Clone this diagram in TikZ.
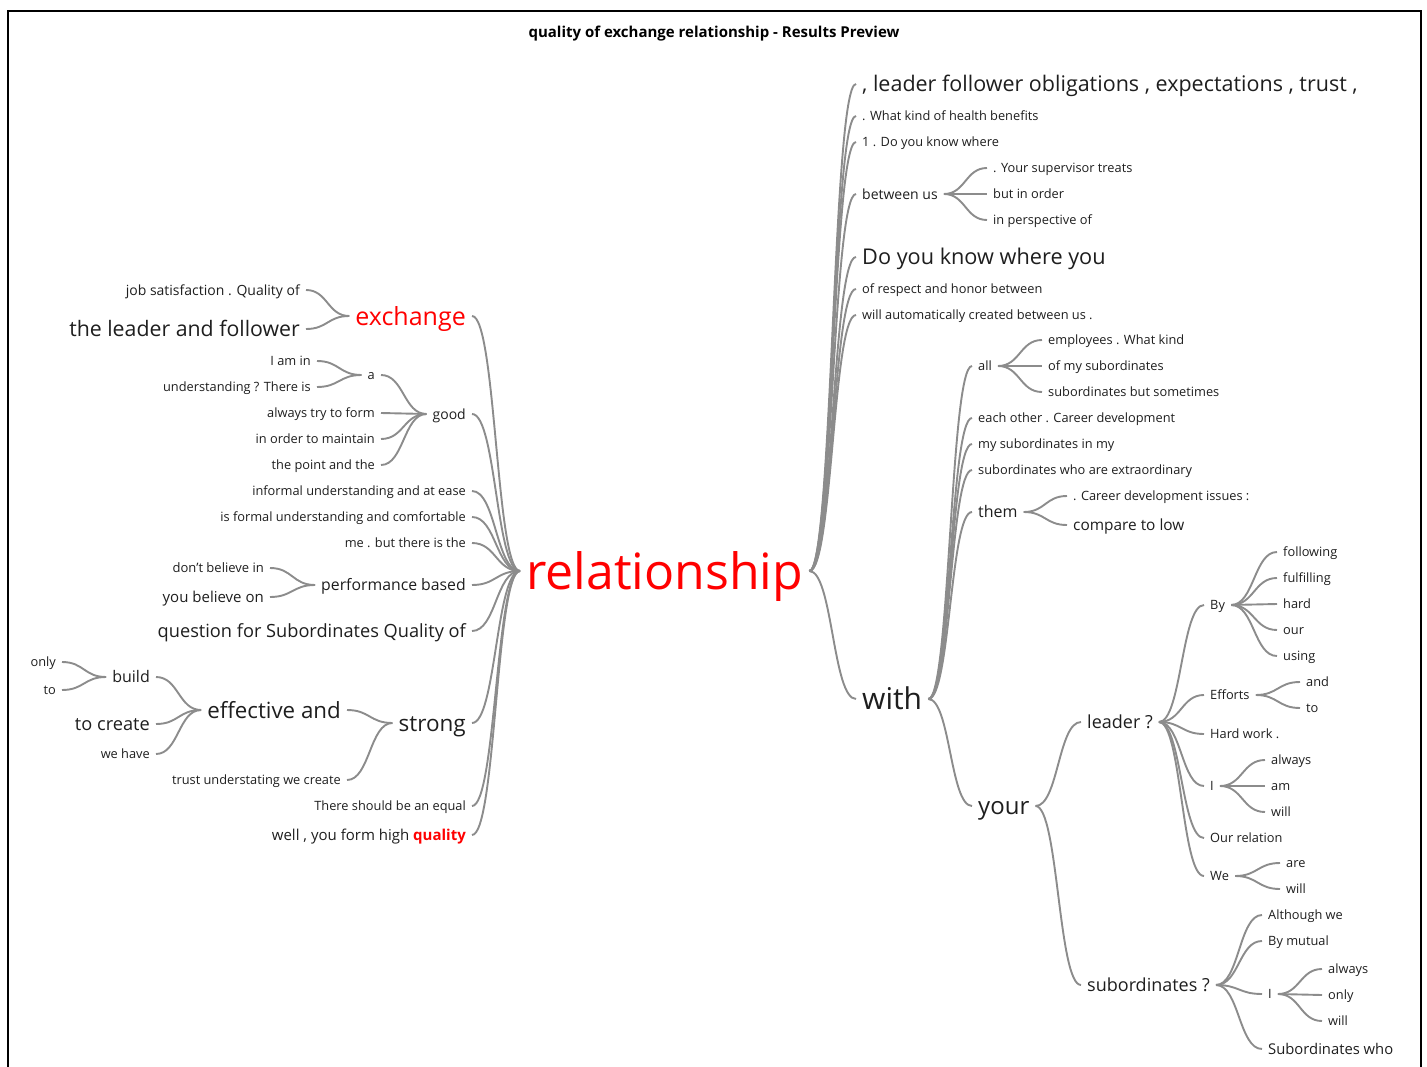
\documentclass[tikz,border=0pt]{standalone}
\usepackage{fontspec}
\setmainfont{Open Sans}
\usetikzlibrary{calc}
\definecolor{linkgray}{RGB}{140,140,140}
\definecolor{wordgray}{RGB}{30,30,30}
\newcommand{\fs}[1]{\fontsize{#1}{#1}\selectfont}

\begin{document}
\begin{tikzpicture}[x=1pt, y=-1pt,
    lw/.style={anchor=east, inner xsep=6pt, inner ysep=0pt, text depth=0pt, text=wordgray},
    rw/.style={lw, anchor=west},
    fz/.style={font=\fs{#1}, text height=#1*0.73pt},
    sm/.style={fz=12.8},
    twig/.style={draw=linkgray, line width=1.9pt,
      to path={let \p1=(\tikztostart), \p2=(\tikztotarget) in
        .. controls ({(\x1+\x2)/2},\y1) and ({(\x1+\x2)/2},\y2) .. (\tikztotarget)}}]
%      \draw [help lines, opacity=0.5] (0,0) grid [step=50] (1427,1067);
      \useasboundingbox (0,0) rectangle (1427,1067);
      \draw [line width=1.2pt] (8,1067) -- (8,11) -- (1421,11) -- (1421,1067);
      \node [fz=15, font=\fs{15}\bfseries, inner ysep=0pt] (title) at (714,34) {quality of exchange relationship - Results Preview};

      % root
      \node [rw, fz=50, text=red] (rel) at (520,571) {relationship};

      % left side
      \node [lw, fz=25, text=red] (exchange) at (472,316) {exchange};
      \node [lw, fz=14] (jobsat) at (306,290) {job satisfaction . Quality of};
      \node [lw, fz=21.3] (leadfol) at (306,329) {the leader and follower};
      \node [lw, fz=14] (good) at (472,414) {good};
      \node [lw, sm] (a) at (381,375) {a};
      \node [lw, sm] (iamin) at (317,361) {I am in};
      \node [lw, sm] (underst) at (317,387) {understanding ? There is};
      \node [lw, sm] (tryform) at (381,413) {always try to form};
      \node [lw, sm] (maintain) at (381,439) {in order to maintain};
      \node [lw, sm] (point) at (381,465) {the point and the};
      \node [lw, sm] (informal) at (472,491) {informal understanding and at ease};
      \node [lw, sm] (formal) at (472,517) {is formal understanding and comfortable};
      \node [lw, sm] (butthere) at (472,543) {me . but there is the};
      \node [lw, fz=15.8] (perf) at (472,585) {performance based};
      \node [lw, fz=13] (dont) at (270,568) {don't believe in};
      \node [lw, fz=15] (believe) at (270,597) {you believe on};
      \node [lw, fz=18.2] (question) at (472,631) {question for Subordinates Quality of};
      \node [lw, fz=22.5] (strong) at (472,723) {strong};
      \node [lw, fz=22.3] (effective) at (347,710) {effective and};
      \node [lw, sm] (trust) at (347,780) {trust understating we create};
      \node [lw, fz=16] (build) at (156,677) {build};
      \node [lw, fz=18.2] (create) at (156,724) {to create};
      \node [lw, sm] (wehave) at (156,754) {we have};
      \node [lw, sm] (only) at (62,662) {only};
      \node [lw, sm] (to) at (62,690) {to};
      \node [lw, sm] (equal) at (472,806) {There should be an equal};
      \node [lw, fz=15] (well) at (472,835) {well , you form high \textcolor{red}{\bfseries quality}};

      \foreach \c in {exchange,good,informal,formal,butthere,perf,question,strong,equal,well}
        \draw [twig] (\c.east) to (rel.west);
      \foreach \c in {jobsat,leadfol} \draw [twig] (\c.east) to (exchange.west);
      \foreach \c in {a,tryform,maintain,point} \draw [twig] (\c.east) to (good.west);
      \foreach \c in {iamin,underst} \draw [twig] (\c.east) to (a.west);
      \foreach \c in {dont,believe} \draw [twig] (\c.east) to (perf.west);
      \foreach \c in {effective,trust} \draw [twig] (\c.east) to (strong.west);
      \foreach \c in {build,create,wehave} \draw [twig] (\c.east) to (effective.west);
      \foreach \c in {only,to} \draw [twig] (\c.east) to (build.west);

      % right side, top
      \node [rw, fz=21.5] (oblig) at (856,84) {, leader follower obligations , expectations , trust ,};
      \node [rw, sm] (health) at (856,116) {. What kind of health benefits};
      \node [rw, sm] (where) at (856,142) {1 . Do you know where};
      \node [rw, fz=14] (between) at (856,194) {between us};
      \node [rw, sm] (treats) at (987,168) {. Your supervisor treats};
      \node [rw, sm] (inorder) at (987,194) {but in order};
      \node [rw, sm] (persp) at (987,220) {in perspective of};
      \node [rw, fz=21.7] (whereyou) at (856,257) {Do you know where you};
      \node [rw, sm] (respect) at (856,289) {of respect and honor between};
      \node [rw, sm] (autom) at (856,315) {will automatically created between us .};
      \node [rw, fz=30] (with) at (856,699) {with};

      \foreach \c in {oblig,health,where,between,whereyou,respect,autom,with}
        \draw [twig] (rel.east) to (\c.west);
      \foreach \c in {treats,inorder,persp} \draw [twig] (between.east) to (\c.west);

      % with
      \node [rw, sm] (all) at (972,366) {all};
      \node [rw, sm] (employees) at (1042,340) {employees . What kind};
      \node [rw, sm] (ofmy) at (1042,366) {of my subordinates};
      \node [rw, sm] (sometimes) at (1042,392) {subordinates but sometimes};
      \node [rw, sm] (eachother) at (972,418) {each other . Career development};
      \node [rw, sm] (inmy) at (972,444) {my subordinates in my};
      \node [rw, sm] (extra) at (972,470) {subordinates who are extraordinary};
      \node [rw, fz=16] (them) at (972,512) {them};
      \node [rw, sm] (issues) at (1067,496) {. Career development issues :};
      \node [rw, fz=15.4] (compare) at (1067,525) {compare to low};
      \node [rw, fz=24] (your) at (972,806) {your};

      \foreach \c in {all,eachother,inmy,extra,them,your} \draw [twig] (with.east) to (\c.west);
      \foreach \c in {employees,ofmy,sometimes} \draw [twig] (all.east) to (\c.west);
      \foreach \c in {issues,compare} \draw [twig] (them.east) to (\c.west);

      % your
      \node [rw, fz=18] (leader) at (1081,722) {leader ?};
      \node [rw, sm] (by) at (1204,605) {By};
      \node [rw, sm] (following) at (1277,552) {following};
      \node [rw, sm] (fulfilling) at (1277,578) {fulfilling};
      \node [rw, sm] (hard) at (1277,604) {hard};
      \node [rw, sm] (our) at (1277,630) {our};
      \node [rw, sm] (using) at (1277,656) {using};
      \node [rw, sm] (efforts) at (1204,695) {Efforts};
      \node [rw, sm] (and) at (1300,682) {and};
      \node [rw, sm] (efto) at (1300,708) {to};
      \node [rw, sm] (hardwork) at (1204,734) {Hard work .};
      \node [rw, sm] (ione) at (1204,786) {I};
      \node [rw, sm] (alwaysone) at (1265,760) {always};
      \node [rw, sm] (am) at (1265,786) {am};
      \node [rw, sm] (willone) at (1265,812) {will};
      \node [rw, sm] (ourrel) at (1204,838) {Our relation};
      \node [rw, sm] (we) at (1204,876) {We};
      \node [rw, sm] (are) at (1280,863) {are};
      \node [rw, sm] (willtwo) at (1280,889) {will};

      \node [rw, fz=18] (subs) at (1081,985) {subordinates ?};
      \node [rw, sm] (although) at (1262,915) {Although we};
      \node [rw, sm] (mutual) at (1262,941) {By mutual};
      \node [rw, sm] (itwo) at (1262,994) {I};
      \node [rw, sm] (alwaystwo) at (1322,969) {always};
      \node [rw, sm] (onlytwo) at (1322,995) {only};
      \node [rw, sm] (willthree) at (1322,1021) {will};
      \node [rw, fz=14.8] (subwho) at (1262,1049) {Subordinates who};

      \foreach \c in {leader,subs} \draw [twig] (your.east) to (\c.west);
      \foreach \c in {by,efforts,hardwork,ione,ourrel,we} \draw [twig] (leader.east) to (\c.west);
      \foreach \c in {following,fulfilling,hard,our,using} \draw [twig] (by.east) to (\c.west);
      \foreach \c in {and,efto} \draw [twig] (efforts.east) to (\c.west);
      \foreach \c in {alwaysone,am,willone} \draw [twig] (ione.east) to (\c.west);
      \foreach \c in {are,willtwo} \draw [twig] (we.east) to (\c.west);
      \foreach \c in {although,mutual,itwo,subwho} \draw [twig] (subs.east) to (\c.west);
      \foreach \c in {alwaystwo,onlytwo,willthree} \draw [twig] (itwo.east) to (\c.west);
\end{tikzpicture}
\end{document}
